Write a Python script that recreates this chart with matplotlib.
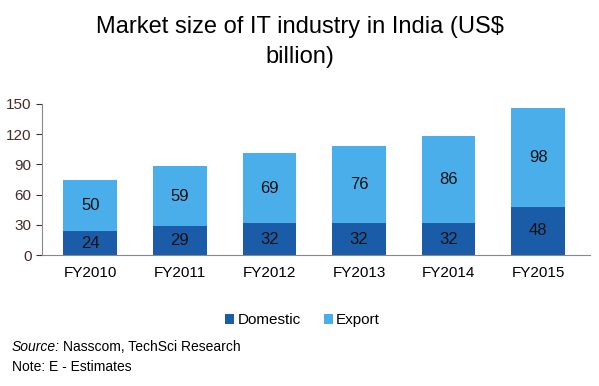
import matplotlib.pyplot as plt
import numpy as np

plt.rcParams['font.family'] = ['Liberation Sans', 'DejaVu Sans']

years = ["FY2010", "FY2011", "FY2012", "FY2013", "FY2014", "FY2015"]
domestic = [24, 29, 32, 32, 32, 48]
export = [50, 59, 69, 76, 86, 98]
yticks = [0, 30, 60, 90, 120, 150]

dom_color = "#1b5ca8"
exp_color = "#4aaeea"

fig = plt.figure(figsize=(5.99, 3.86), dpi=100)
ax = fig.add_axes([0.070, 0.339, 0.915, 0.392])

x = np.arange(len(years))
b1 = ax.bar(x, domestic, width=0.6, color=dom_color, label="Domestic")
b2 = ax.bar(x, export, width=0.6, bottom=domestic, color=exp_color, label="Export")

for xi, d, e in zip(x, domestic, export):
    ax.text(xi, d / 2, str(d), ha="center", va="center", fontsize=12, color="#111111")
    ax.text(xi, d + e / 2, str(e), ha="center", va="center", fontsize=12, color="#111111")

ax.set_xlim(-0.54, 5.58)
ax.set_ylim(0, 150)
ax.set_yticks(yticks)
ax.set_xticks(x)
ax.set_xticklabels(years, fontsize=11)
ax.tick_params(axis="y", labelsize=11, colors="#4a2b2b", length=4, direction="out")
ax.tick_params(axis="x", length=0, pad=8)
for s in ["top", "right"]:
    ax.spines[s].set_visible(False)
ax.spines["left"].set_color("#888888")
ax.spines["bottom"].set_color("#888888")

fig.text(0.5, 0.93, "Market size of IT industry in India (US$", ha="center", va="center", fontsize=17)
fig.text(0.5, 0.852, "billion)", ha="center", va="center", fontsize=17)

fig.legend(handles=[b1, b2], loc="center", bbox_to_anchor=(0.505, 0.17), ncol=2,
           frameon=False, fontsize=11, handlelength=0.6, handleheight=0.6,
           handletextpad=0.2, columnspacing=1.5)

fig.text(0.02, 0.10, "Source:", style="italic", fontsize=10, va="center")
fig.text(0.106, 0.10, "Nasscom, TechSci Research", fontsize=10, va="center")
fig.text(0.02, 0.048, "Note: E - Estimates", fontsize=10, va="center")

fig.savefig("out.png", dpi=100)
